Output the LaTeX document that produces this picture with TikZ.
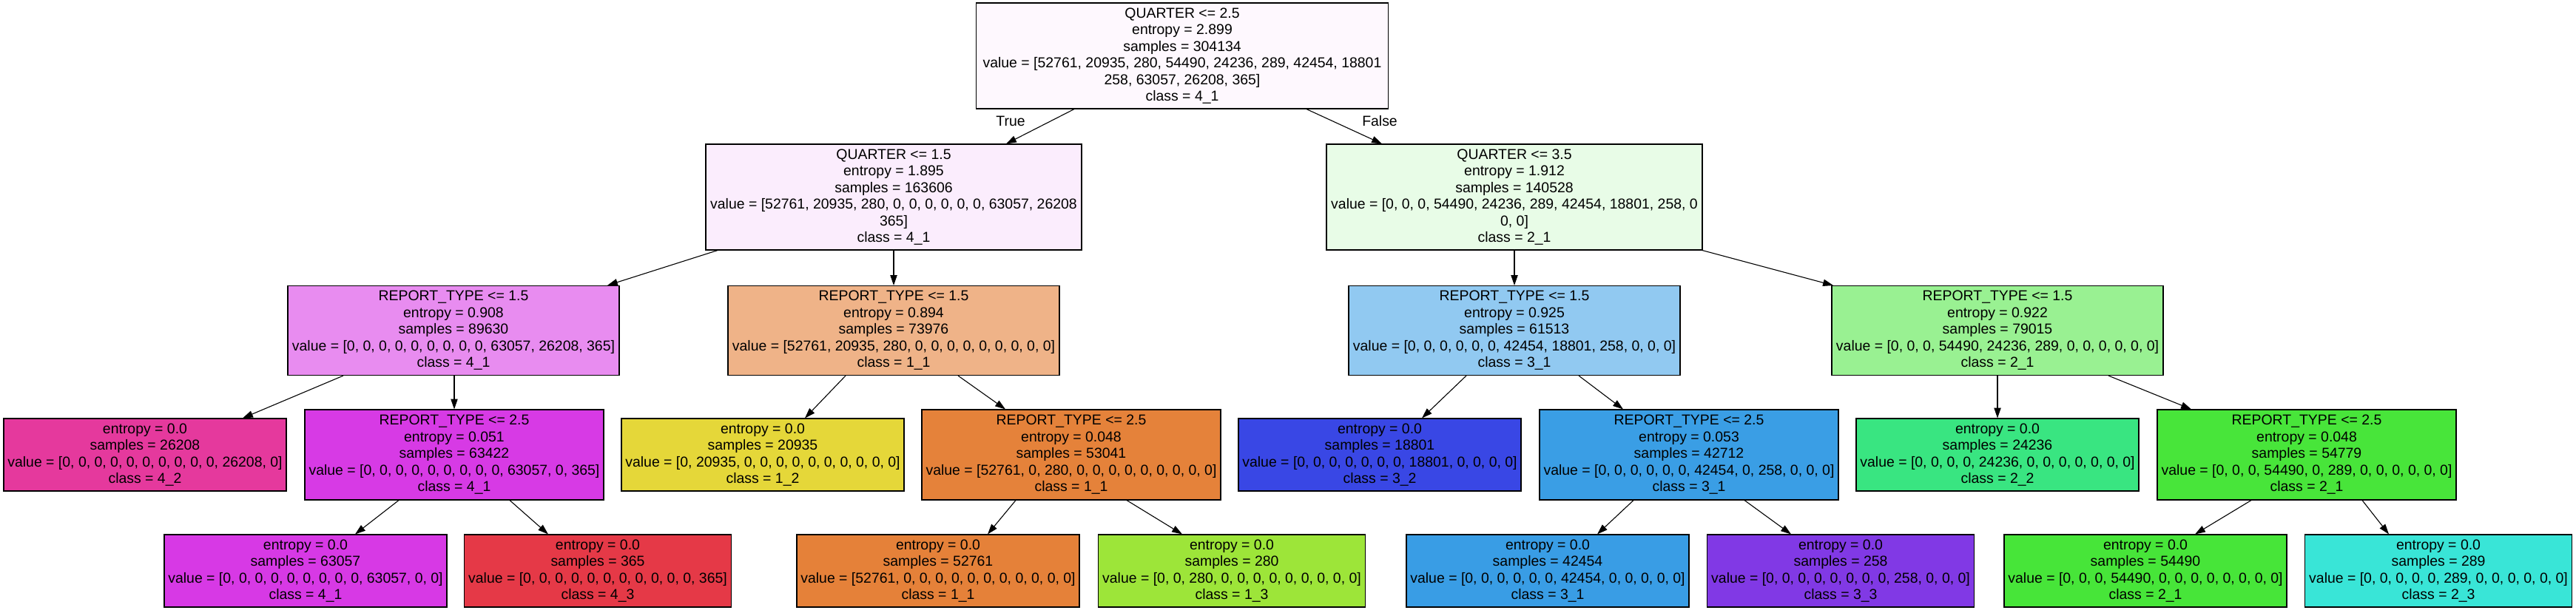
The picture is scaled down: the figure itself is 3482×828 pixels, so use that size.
\documentclass[tikz,border=0pt]{standalone}
\usepackage{fontspec}
\setmainfont{Liberation Sans}
\usetikzlibrary{arrows.meta}
\definecolor{cRoot}{HTML}{FEF8FE}
\definecolor{cQa}{HTML}{FBEDFD}
\definecolor{cQb}{HTML}{E8FCE7}
\definecolor{cRa}{HTML}{E88CF0}
\definecolor{cRb}{HTML}{EFB388}
\definecolor{cRc}{HTML}{91C9F1}
\definecolor{cRd}{HTML}{99F192}
\definecolor{cSa}{HTML}{D73AE5}
\definecolor{cSb}{HTML}{E5823A}
\definecolor{cSc}{HTML}{3A9EE5}
\definecolor{cSd}{HTML}{48E53A}
\definecolor{k11}{HTML}{E58139}
\definecolor{k12}{HTML}{E5D739}
\definecolor{k13}{HTML}{9DE539}
\definecolor{k21}{HTML}{47E539}
\definecolor{k22}{HTML}{39E581}
\definecolor{k23}{HTML}{39E5D7}
\definecolor{k31}{HTML}{399DE5}
\definecolor{k32}{HTML}{3947E5}
\definecolor{k33}{HTML}{8139E5}
\definecolor{k41}{HTML}{D739E5}
\definecolor{k42}{HTML}{E5399D}
\definecolor{k43}{HTML}{E53947}

\begin{document}
\begin{tikzpicture}[x=1pt,y=-1pt,>={Triangle[length=13.9pt,width=9.3pt]},
  box/.style={draw,line width=1.1pt,align=center,inner sep=0pt,font=\fontsize{19.44}{22.5}\selectfont},
  widebox/.style={box,minimum width=508pt,minimum height=143pt},
  splitbox/.style={box,minimum width=448pt,minimum height=121pt},
  innerbox/.style={box,minimum width=404pt,minimum height=122pt},
  leafbox/.style={box,minimum width=382pt,minimum height=98pt},
  shortbox/.style={box,minimum width=361pt,minimum height=98pt},
  link/.style={->,line width=1.1pt},
  lbl/.style={font=\fontsize{19.44}{22.5}\selectfont}]
  \useasboundingbox (0,0) rectangle (3482,828);
  \node[box,fill=cRoot,minimum width=557pt,minimum height=143pt] (root) at (1598,75.5) {QUARTER <= 2.5\\entropy = 2.899\\samples = 304134\\value = [52761, 20935, 280, 54490, 24236, 289, 42454, 18801\\258, 63057, 26208, 365]\\class = 4\_1};
  \node[widebox,fill=cQa] (qa) at (1208,266.5) {QUARTER <= 1.5\\entropy = 1.895\\samples = 163606\\value = [52761, 20935, 280, 0, 0, 0, 0, 0, 0, 63057, 26208\\365]\\class = 4\_1};
  \node[widebox,fill=cQb] (qb) at (2047,266.5) {QUARTER <= 3.5\\entropy = 1.912\\samples = 140528\\value = [0, 0, 0, 54490, 24236, 289, 42454, 18801, 258, 0\\0, 0]\\class = 2\_1};
  \node[splitbox,fill=cRa] (ra) at (613,447) {REPORT\_TYPE <= 1.5\\entropy = 0.908\\samples = 89630\\value = [0, 0, 0, 0, 0, 0, 0, 0, 0, 63057, 26208, 365]\\class = 4\_1};
  \node[splitbox,fill=cRb] (rb) at (1208,447) {REPORT\_TYPE <= 1.5\\entropy = 0.894\\samples = 73976\\value = [52761, 20935, 280, 0, 0, 0, 0, 0, 0, 0, 0, 0]\\class = 1\_1};
  \node[splitbox,fill=cRc] (rc) at (2047,447) {REPORT\_TYPE <= 1.5\\entropy = 0.925\\samples = 61513\\value = [0, 0, 0, 0, 0, 0, 42454, 18801, 258, 0, 0, 0]\\class = 3\_1};
  \node[splitbox,fill=cRd] (rd) at (2700,447) {REPORT\_TYPE <= 1.5\\entropy = 0.922\\samples = 79015\\value = [0, 0, 0, 54490, 24236, 289, 0, 0, 0, 0, 0, 0]\\class = 2\_1};
  \node[leafbox,fill=k42] (l42) at (196,615) {entropy = 0.0\\samples = 26208\\value = [0, 0, 0, 0, 0, 0, 0, 0, 0, 0, 26208, 0]\\class = 4\_2};
  \node[innerbox,fill=cSa] (sa) at (614,615) {REPORT\_TYPE <= 2.5\\entropy = 0.051\\samples = 63422\\value = [0, 0, 0, 0, 0, 0, 0, 0, 0, 63057, 0, 365]\\class = 4\_1};
  \node[leafbox,fill=k12] (l12) at (1031,615) {entropy = 0.0\\samples = 20935\\value = [0, 20935, 0, 0, 0, 0, 0, 0, 0, 0, 0, 0]\\class = 1\_2};
  \node[innerbox,fill=cSb] (sb) at (1448,615) {REPORT\_TYPE <= 2.5\\entropy = 0.048\\samples = 53041\\value = [52761, 0, 280, 0, 0, 0, 0, 0, 0, 0, 0, 0]\\class = 1\_1};
  \node[leafbox,fill=k32] (l32) at (1865,615) {entropy = 0.0\\samples = 18801\\value = [0, 0, 0, 0, 0, 0, 0, 18801, 0, 0, 0, 0]\\class = 3\_2};
  \node[innerbox,fill=cSc] (sc) at (2283,615) {REPORT\_TYPE <= 2.5\\entropy = 0.053\\samples = 42712\\value = [0, 0, 0, 0, 0, 0, 42454, 0, 258, 0, 0, 0]\\class = 3\_1};
  \node[leafbox,fill=k22] (l22) at (2700,615) {entropy = 0.0\\samples = 24236\\value = [0, 0, 0, 0, 24236, 0, 0, 0, 0, 0, 0, 0]\\class = 2\_2};
  \node[innerbox,fill=cSd] (sd) at (3118,615) {REPORT\_TYPE <= 2.5\\entropy = 0.048\\samples = 54779\\value = [0, 0, 0, 54490, 0, 289, 0, 0, 0, 0, 0, 0]\\class = 2\_1};
  \node[leafbox,fill=k41] (m41) at (413,772) {entropy = 0.0\\samples = 63057\\value = [0, 0, 0, 0, 0, 0, 0, 0, 0, 63057, 0, 0]\\class = 4\_1};
  \node[shortbox,fill=k43] (m43) at (808,772) {entropy = 0.0\\samples = 365\\value = [0, 0, 0, 0, 0, 0, 0, 0, 0, 0, 0, 365]\\class = 4\_3};
  \node[leafbox,fill=k11] (m11) at (1268,772) {entropy = 0.0\\samples = 52761\\value = [52761, 0, 0, 0, 0, 0, 0, 0, 0, 0, 0, 0]\\class = 1\_1};
  \node[shortbox,fill=k13] (m13) at (1665,772) {entropy = 0.0\\samples = 280\\value = [0, 0, 280, 0, 0, 0, 0, 0, 0, 0, 0, 0]\\class = 1\_3};
  \node[leafbox,fill=k31] (m31) at (2092,772) {entropy = 0.0\\samples = 42454\\value = [0, 0, 0, 0, 0, 0, 42454, 0, 0, 0, 0, 0]\\class = 3\_1};
  \node[shortbox,fill=k33] (m33) at (2488,772) {entropy = 0.0\\samples = 258\\value = [0, 0, 0, 0, 0, 0, 0, 0, 258, 0, 0, 0]\\class = 3\_3};
  \node[leafbox,fill=k21] (m21) at (2900,772) {entropy = 0.0\\samples = 54490\\value = [0, 0, 0, 54490, 0, 0, 0, 0, 0, 0, 0, 0]\\class = 2\_1};
  \node[shortbox,fill=k23] (m23) at (3296,772) {entropy = 0.0\\samples = 289\\value = [0, 0, 0, 0, 0, 289, 0, 0, 0, 0, 0, 0]\\class = 2\_3};
  \node[lbl] (ltrue) at (1366,164) {True};
  \node[lbl] (lfalse) at (1865,164) {False};
  \draw[link] ([xshift=-146pt]root.south) -- ([xshift=152pt]qa.north);
  \draw[link] ([xshift=168pt]root.south) -- ([xshift=-179pt]qb.north);
  \draw[link] ([xshift=-238pt]qa.south) -- ([xshift=208pt]ra.north);
  \draw[link] (qa.south) -- (rb.north);
  \draw[link] (qb.south) -- (rc.north);
  \draw[link] ([xshift=254pt]qb.south) -- ([xshift=-222pt]rd.north);
  \draw[link] ([xshift=-149pt]ra.south) -- ([xshift=132pt]l42.north);
  \draw[link] ([xshift=1pt]ra.south) -- (sa.north);
  \draw[link] ([xshift=-65pt]rb.south) -- ([xshift=57pt]l12.north);
  \draw[link] ([xshift=87pt]rb.south) -- ([xshift=-89pt]sb.north);
  \draw[link] ([xshift=-65pt]rc.south) -- ([xshift=57pt]l32.north);
  \draw[link] ([xshift=87pt]rc.south) -- ([xshift=-89pt]sc.north);
  \draw[link] (rd.south) -- (l22.north);
  \draw[link] ([xshift=150pt]rd.south) -- ([xshift=-156pt]sd.north);
  \draw[link] ([xshift=-75pt]sa.south) -- ([xshift=67pt]m41.north);
  \draw[link] ([xshift=75pt]sa.south) -- ([xshift=-67pt]m43.north);
  \draw[link] ([xshift=-75pt]sb.south) -- ([xshift=67pt]m11.north);
  \draw[link] ([xshift=75pt]sb.south) -- ([xshift=-67pt]m13.north);
  \draw[link] ([xshift=-75pt]sc.south) -- ([xshift=67pt]m31.north);
  \draw[link] ([xshift=75pt]sc.south) -- ([xshift=-67pt]m33.north);
  \draw[link] ([xshift=-75pt]sd.south) -- ([xshift=67pt]m21.north);
  \draw[link] ([xshift=75pt]sd.south) -- ([xshift=-67pt]m23.north);
\end{tikzpicture}
\end{document}
